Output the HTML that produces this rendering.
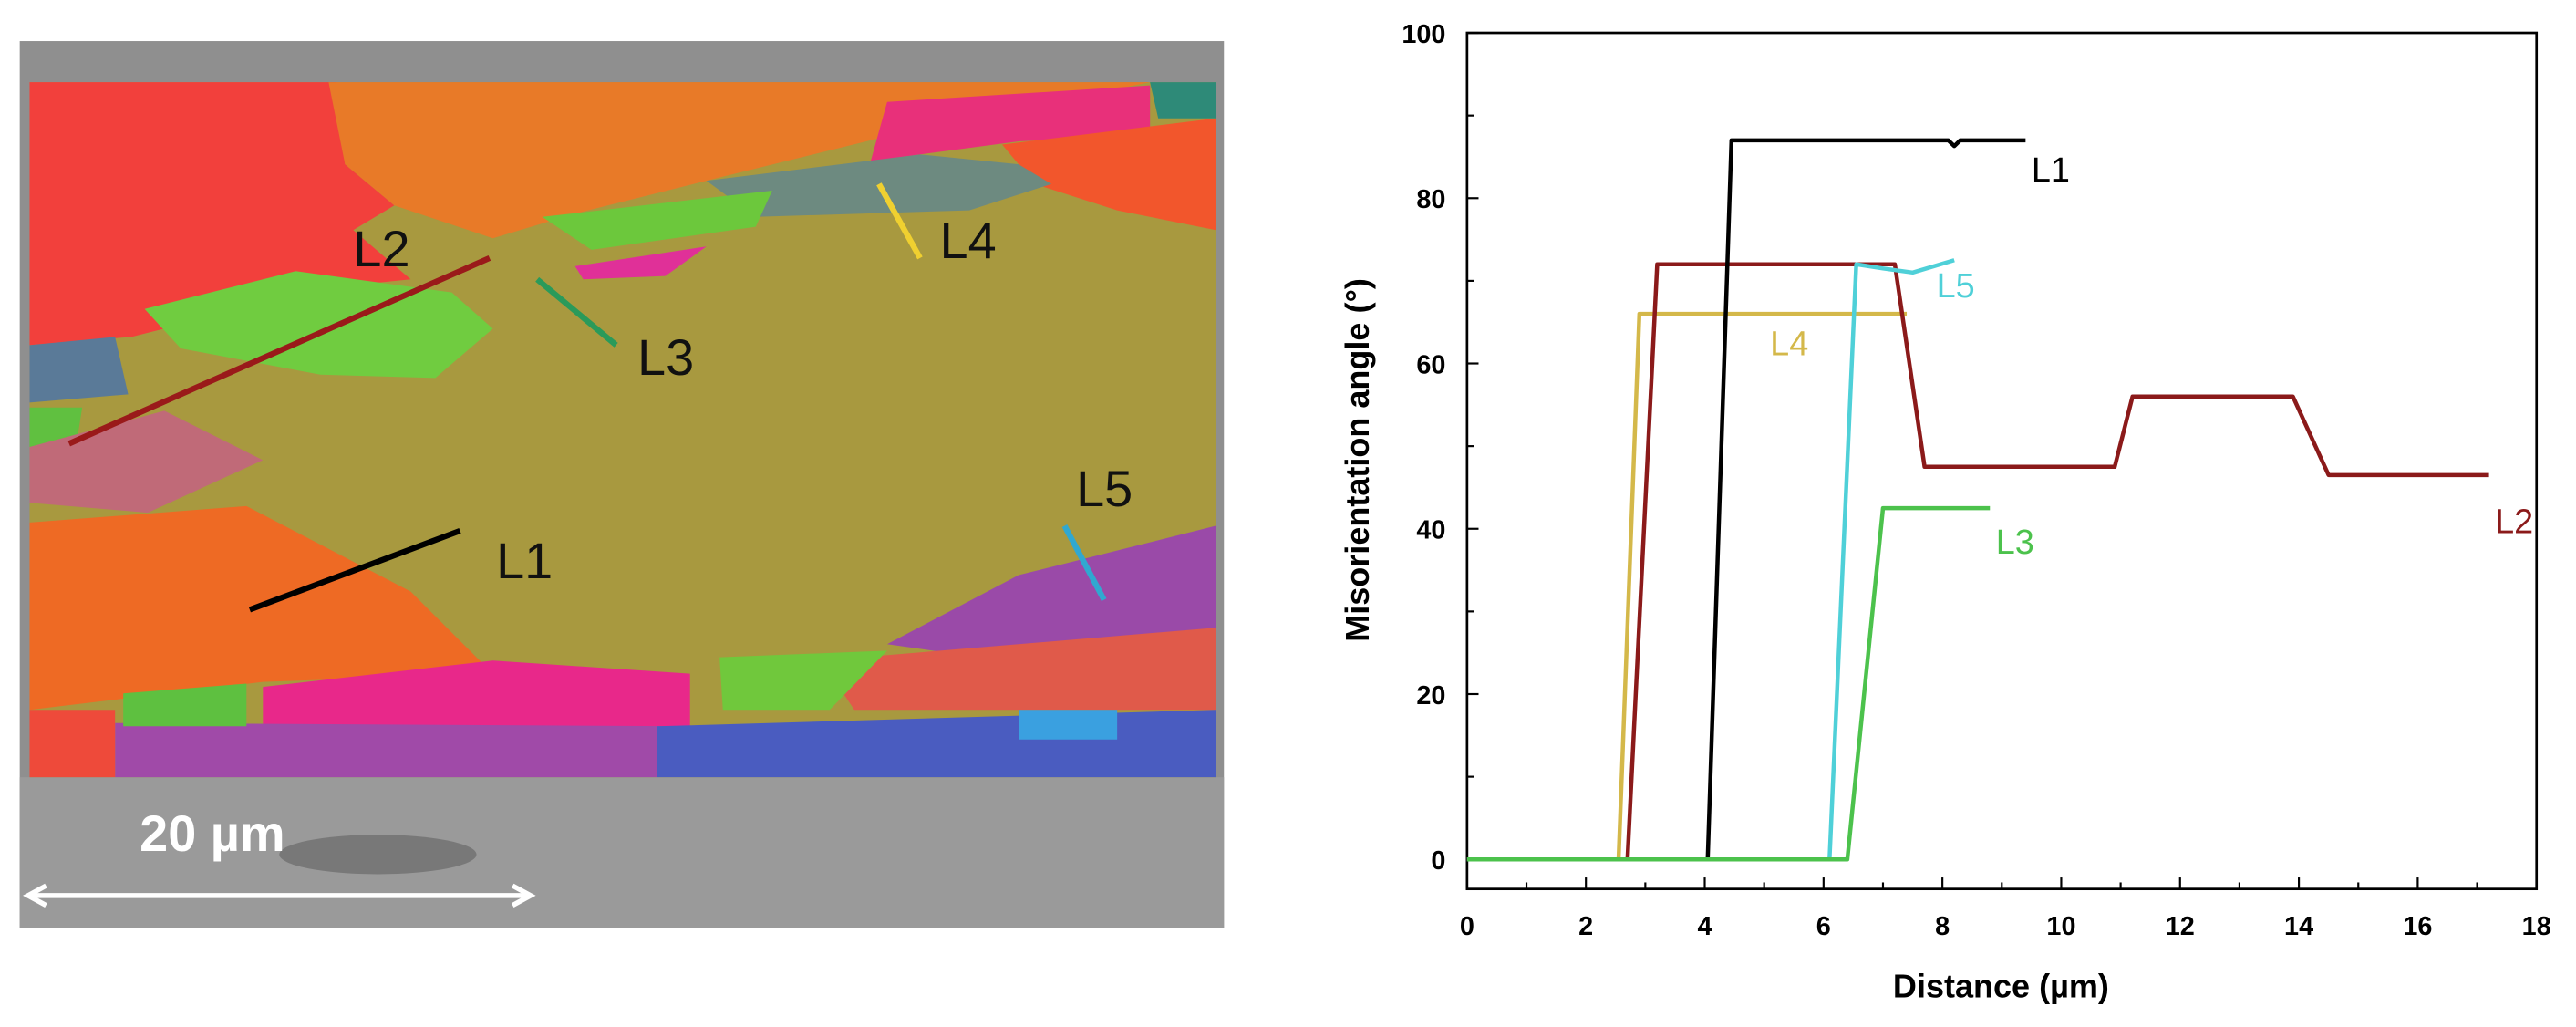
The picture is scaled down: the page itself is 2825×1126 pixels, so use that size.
<!DOCTYPE html>
<html><head><meta charset="utf-8"><style>
html,body{margin:0;padding:0;background:#fff;width:2825px;height:1126px;overflow:hidden}
svg{display:block}
text{font-family:"Liberation Sans",Arial,sans-serif}
</style></head><body>
<svg id="fig" width="2825" height="1126" viewBox="0 0 1568 625" xmlns="http://www.w3.org/2000/svg">
<g>
<rect x="12" y="25" width="733" height="540" fill="#8f8f8f"/>
<rect x="12" y="473" width="733" height="92" fill="#9a9a9a"/>
<ellipse cx="230" cy="520" rx="60" ry="12" fill="#555" opacity="0.5"/>
<rect x="18" y="50" width="722" height="423" fill="#a8993f"/>
<polygon points="18,50 205,50 210,100 240,125 215,140 250,170 200,175 120,195 80,205 18,210" fill="#f2403c"/>
<polygon points="200,50 700,50 560,78 430,110 350,130 300,145 240,125 210,100" fill="#e87a28"/>
<polygon points="540,62 700,52 700,82 620,86 530,98" fill="#e8307a"/>
<polygon points="610,88 740,72 740,140 680,128 630,112" fill="#f2562c"/>
<polygon points="700,50 740,50 740,72 705,72" fill="#2e8a78"/>
<polygon points="430,110 560,94 620,100 640,112 590,128 460,132" fill="#6d8a80"/>
<polygon points="330,132 470,116 460,138 360,152" fill="#6cc83c"/>
<polygon points="350,162 430,150 405,168 355,170" fill="#e03098"/>
<polygon points="88,188 180,165 275,178 300,200 265,230 195,228 110,212" fill="#70cc40"/>
<polygon points="18,210 70,205 78,240 18,245" fill="#5a7a98"/>
<polygon points="18,248 50,248 45,280 18,276" fill="#60c040"/>
<polygon points="18,272 100,250 160,280 90,312 18,306" fill="#c06a78"/>
<polygon points="18,318 150,308 250,360 300,410 160,415 18,432" fill="#ee6a24"/>
<polygon points="540,392 620,350 740,320 740,390 610,402" fill="#9a4aa8"/>
<polygon points="500,402 740,382 740,432 520,432" fill="#e05a4a"/>
<polygon points="160,418 300,402 420,410 420,442 160,442" fill="#e8288a"/>
<polygon points="438,400 540,396 505,432 440,432" fill="#70c83c"/>
<polygon points="70,440 420,442 400,473 70,473" fill="#a04aa8"/>
<polygon points="400,442 740,432 740,473 400,473" fill="#4a5cc0"/>
<polygon points="75,422 150,416 150,442 75,442" fill="#5ec040"/>
<polygon points="18,432 70,432 70,473 18,473" fill="#ee4a3a"/>
<polygon points="620,432 680,432 680,450 620,450" fill="#3aa0e0"/>
<line x1="42" y1="270" x2="298" y2="157" stroke="#9a1a1a" stroke-width="3.5"/>
<line x1="327" y1="170" x2="375" y2="210" stroke="#2a9a5a" stroke-width="3.5"/>
<line x1="535" y1="112" x2="560" y2="157" stroke="#f0d030" stroke-width="3.5"/>
<line x1="152" y1="371" x2="280" y2="323" stroke="#000" stroke-width="3.5"/>
<line x1="648" y1="320" x2="672" y2="365" stroke="#30a8d0" stroke-width="3.5"/>
<g font-size="31" fill="#111">
<text x="215" y="162">L2</text>
<text x="572" y="157">L4</text>
<text x="388" y="228">L3</text>
<text x="302" y="352">L1</text>
<text x="655" y="308">L5</text>
</g>
<text x="85" y="518" font-size="31" font-weight="bold" fill="#fff">20 µm</text>
<g stroke="#fff" stroke-width="3" fill="none">
<line x1="18" y1="545" x2="322" y2="545"/>
<polyline points="28,539 17,545 28,551"/>
<polyline points="312,539 323,545 312,551"/>
</g>
</g>
<g id="chart"></g>
</svg>
<script>
const xTicks=[0,2,4,6,8,10,12,14,16,18];
const yTicks=[0,20,40,60,80,100];
const seriesNames=["L1","L2","L3","L4","L5"];
const seriesColors=["#000000","#8b1a1a","#4cc24c","#d4b84a","#4fd0d8"];
const l1X=[0,4.05,4.45,8.1,8.2,8.3,9.4];
const l1Y=[0,0,87,87,86.3,87,87];
const l2X=[0,2.7,3.2,7.2,7.7,10.9,11.2,13.9,14.5,17.2];
const l2Y=[0,0,72,72,47.5,47.5,56,56,46.5,46.5];
const l3X=[0,6.4,7.0,8.8];
const l3Y=[0,0,42.5,42.5];
const l4X=[0,2.55,2.9,7.4];
const l4Y=[0,0,66,66];
const l5X=[0,6.1,6.55,7.0,7.5,8.2];
const l5Y=[0,0,72,71.5,71,72.5];
const labelX=[9.5,17.3,8.9,5.1,7.9];
const labelY=[82,39.5,37,61,68];

const NS="http://www.w3.org/2000/svg";
const X0=893,X1=1544,Y0=523,YT=20,PB=541;
const xs=v=>X0+v*(X1-X0)/18;
const ys=v=>Y0-v*(Y0-YT)/100;
const g=document.getElementById('chart');
function mk(t,a){const e=document.createElementNS(NS,t);for(const k in a)e.setAttribute(k,a[k]);g.appendChild(e);return e;}
const frame=mk('rect',{x:X0,y:YT,width:X1-X0,height:PB-YT,fill:'none',stroke:'#000','stroke-width':1.5});


for(let i=0;i<=18;i++){const x=xs(i);const len=i%2?4:7;
 const t=mk('line',{x1:x,y1:PB,x2:x,y2:PB-len,stroke:'#000','stroke-width':1.2});
 
 }
xTicks.forEach(v=>{const t=mk('text',{x:xs(v),y:569,'font-size':16,'font-weight':'bold','text-anchor':'middle'});t.textContent=v;
 
 });
for(let i=0;i<=10;i++){const y=ys(i*10);const len=i%2?4:7;
 const t=mk('line',{x1:X0,y1:y,x2:X0+len,y2:y,stroke:'#000','stroke-width':1.2});
 
 }
yTicks.forEach(v=>{const t=mk('text',{x:880,y:ys(v)+6,'font-size':16,'font-weight':'bold','text-anchor':'end'});t.textContent=v;
 
 });
const xt=mk('text',{x:1218,y:607,'font-size':20,'font-weight':'bold','text-anchor':'middle'});xt.textContent='Distance (µm)';


const yt=mk('text',{x:0,y:0,'font-size':20,'font-weight':'bold','text-anchor':'middle',transform:'translate(833,280) rotate(-90)'});yt.textContent='Misorientation angle (°)';


const data=[[l1X,l1Y],[l2X,l2Y],[l3X,l3Y],[l4X,l4Y],[l5X,l5Y]];
const order=[3,1,0,4,2];
order.forEach(i=>{const [X,Y]=data[i];
 const p=mk('polyline',{points:X.map((x,j)=>xs(x)+','+ys(Y[j])).join(' '),fill:'none',stroke:seriesColors[i],'stroke-width':2.5,'stroke-linejoin':'round'});
 
 });
seriesNames.forEach((n,i)=>{const t=mk('text',{x:xs(labelX[i]),y:ys(labelY[i]),'font-size':21,fill:seriesColors[i]});t.textContent=n;
 
 });
</script>
</body></html>
